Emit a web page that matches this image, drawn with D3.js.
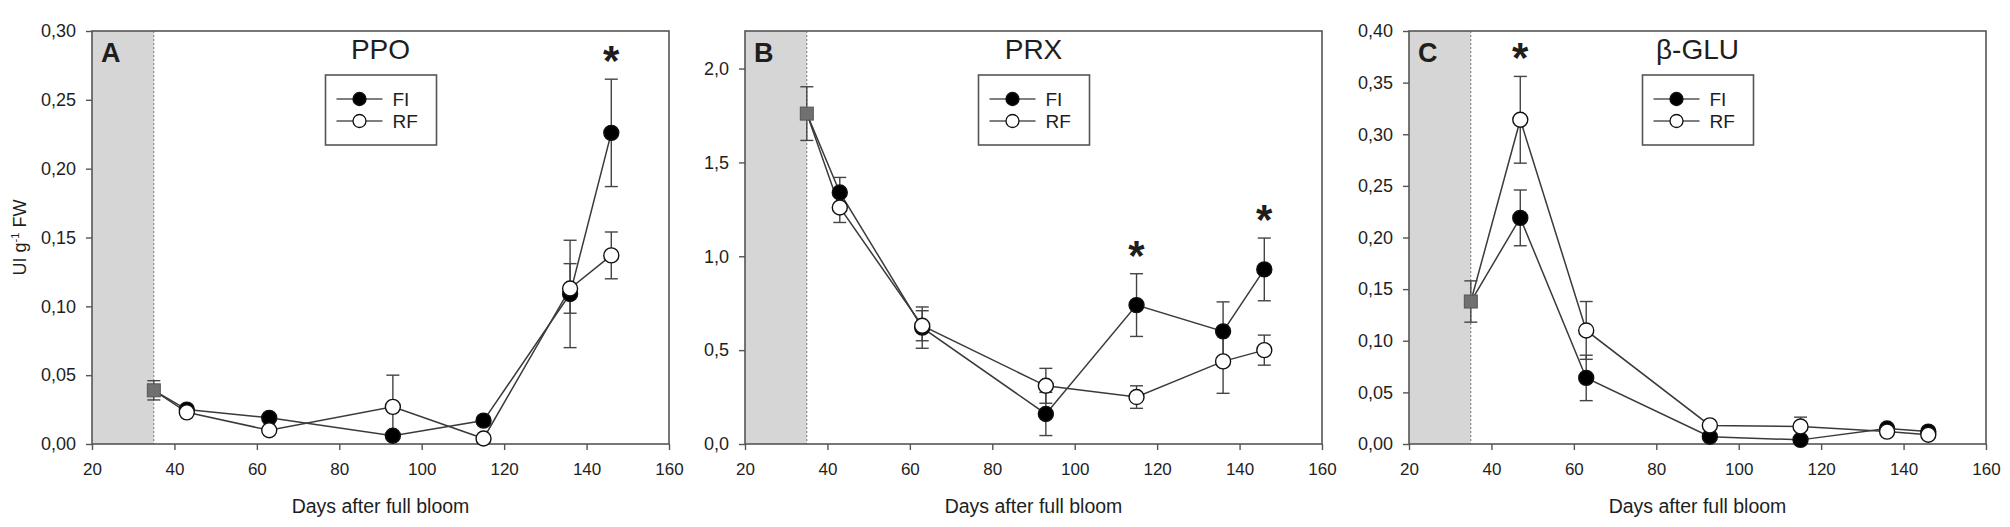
<!DOCTYPE html>
<html lang="en">
<head>
    <meta charset="UTF-8">
    <title>PPO, PRX, β-GLU activity</title>
    <script src="https://d3js.org/d3.v7.min.js"></script>
    <style>
        body { margin: 0; background: #fff; font-family: Arial, "Liberation Sans", sans-serif; }
        svg text { fill: #1e1e1e; }
        .tick line { stroke: #555; stroke-width: 1.4; }
        .tick text { font-size: 18px; }
        .xaxis .tick text { font-size: 17px; }
    </style>
</head>
<body>
<svg width="2010" height="527"></svg>
<script>
    // sampling days (days after full bloom)
    const daysAB = [43, 63, 93, 115, 136, 146];
    const daysC = [47, 63, 93, 115, 136, 146];
    const startDay = 35;

    // PPO
    const ppoStart = [0.039, 0.007];
    const ppoFI = [0.025, 0.019, 0.006, 0.017, 0.109, 0.226];
    const ppoFIerr = [0.002, 0.002, 0.002, 0.003, 0.039, 0.039];
    const ppoRF = [0.023, 0.010, 0.027, 0.004, 0.113, 0.137];
    const ppoRFerr = [0.002, 0.002, 0.023, 0.002, 0.018, 0.017];
    const ppoStars = [146];
    const ppoTicks = [0, 0.05, 0.10, 0.15, 0.20, 0.25, 0.30];

    // PRX
    const prxStart = [1.76, 0.143];
    const prxFI = [1.34, 0.62, 0.16, 0.74, 0.60, 0.93];
    const prxFIerr = [0.08, 0.11, 0.115, 0.167, 0.157, 0.167];
    const prxRF = [1.26, 0.63, 0.31, 0.25, 0.44, 0.50];
    const prxRFerr = [0.08, 0.08, 0.093, 0.06, 0.17, 0.08];
    const prxStars = [115, 146];
    const prxTicks = [0, 0.5, 1.0, 1.5, 2.0];

    // beta-GLU
    const gluStart = [0.138, 0.02];
    const gluFI = [0.219, 0.064, 0.007, 0.004, 0.015, 0.012];
    const gluFIerr = [0.027, 0.022, 0.002, 0.002, 0.002, 0.002];
    const gluRF = [0.314, 0.110, 0.018, 0.017, 0.012, 0.009];
    const gluRFerr = [0.042, 0.028, 0.003, 0.009, 0.003, 0.002];
    const gluStars = [47];
    const gluTicks = [0, 0.05, 0.10, 0.15, 0.20, 0.25, 0.30, 0.35, 0.40];

    const xTicks = [20, 40, 60, 80, 100, 120, 140, 160];

    const panels = [
        {letter: "A", title: "PPO", left: 92, days: daysAB, start: ppoStart, fi: ppoFI, fiErr: ppoFIerr, rf: ppoRF, rfErr: ppoRFerr, stars: ppoStars, ticks: ppoTicks, max: 0.30, dec: 2, ylabel: true},
        {letter: "B", title: "PRX", left: 745, days: daysAB, start: prxStart, fi: prxFI, fiErr: prxFIerr, rf: prxRF, rfErr: prxRFerr, stars: prxStars, ticks: prxTicks, max: 2.2, dec: 1},
        {letter: "C", title: "β-GLU", left: 1409, days: daysC, start: gluStart, fi: gluFI, fiErr: gluFIerr, rf: gluRF, rfErr: gluRFerr, stars: gluStars, ticks: gluTicks, max: 0.40, dec: 2}
    ];

    const svg = d3.select("svg");
    const plotTop = 31, plotBottom = 444, pw = 577;
    const comma = (v, dec) => v.toFixed(dec).replace(".", ",");

    panels.forEach(p => {
        const x = d3.scaleLinear().domain([20, 160]).range([p.left, p.left + pw]);
        const y = d3.scaleLinear().domain([0, p.max]).range([plotBottom, plotTop]);
        const g = svg.append("g");

        // pre-treatment shaded zone
        g.append("rect")
            .attr("x", x(20)).attr("y", plotTop)
            .attr("width", x(startDay) - x(20)).attr("height", plotBottom - plotTop)
            .attr("fill", "#d6d6d6");
        g.append("line")
            .attr("x1", x(startDay)).attr("x2", x(startDay))
            .attr("y1", plotTop).attr("y2", plotBottom)
            .attr("stroke", "#777").attr("stroke-width", 1).attr("stroke-dasharray", "2,2");

        // axes (ticks only, frame drawn separately)
        const ax = g.append("g")
            .attr("class", "xaxis")
            .attr("transform", `translate(0,${plotBottom})`)
            .call(d3.axisBottom(x).tickValues(xTicks).tickSize(6).tickSizeOuter(0).tickPadding(13).tickFormat(d3.format("d")));
        ax.select(".domain").remove();
        const ay = g.append("g")
            .attr("transform", `translate(${p.left},0)`)
            .call(d3.axisLeft(y).tickValues(p.ticks).tickSize(6).tickSizeOuter(0).tickPadding(10).tickFormat(d => comma(d, p.dec)));
        ay.select(".domain").remove();

        g.append("rect")
            .attr("x", p.left).attr("y", plotTop)
            .attr("width", pw).attr("height", plotBottom - plotTop)
            .attr("fill", "none").attr("stroke", "#555").attr("stroke-width", 1.6);

        // series built from the arrays
        const series = [
            {name: "FI", vals: p.fi, errs: p.fiErr, fill: "#000"},
            {name: "RF", vals: p.rf, errs: p.rfErr, fill: "#fff"}
        ].map(s => ({...s, pts: p.days.map((d, i) => ({day: d, v: s.vals[i], e: s.errs[i]}))}));

        const line = d3.line().x(d => x(d.day)).y(d => y(d.v));
        series.forEach(s => {
            g.append("path")
                .datum([{day: startDay, v: p.start[0]}, ...s.pts])
                .attr("d", line)
                .attr("fill", "none").attr("stroke", "#3a3a3a").attr("stroke-width", 1.5);
        });

        // error bars
        const allErr = [{day: startDay, v: p.start[0], e: p.start[1]}, ...series[0].pts, ...series[1].pts];
        const eb = g.append("g").attr("stroke", "#444").attr("stroke-width", 1.4);
        allErr.forEach(d => {
            const cx = x(d.day), y1 = y(d.v + d.e), y2 = y(d.v - d.e);
            eb.append("line").attr("x1", cx).attr("x2", cx).attr("y1", y1).attr("y2", y2);
            eb.append("line").attr("x1", cx - 6.5).attr("x2", cx + 6.5).attr("y1", y1).attr("y2", y1);
            eb.append("line").attr("x1", cx - 6.5).attr("x2", cx + 6.5).attr("y1", y2).attr("y2", y2);
        });

        // markers
        series.forEach(s => {
            g.selectAll(null).data(s.pts).enter().append("circle")
                .attr("cx", d => x(d.day)).attr("cy", d => y(d.v)).attr("r", 7.5)
                .attr("fill", s.fill).attr("stroke", "#111").attr("stroke-width", 1.4);
        });
        g.append("rect")
            .attr("x", x(startDay) - 6.5).attr("y", y(p.start[0]) - 6.5)
            .attr("width", 13).attr("height", 13)
            .attr("fill", "#707070").attr("stroke", "#555").attr("stroke-width", 1);

        // significance asterisks above the upper error bar
        p.stars.forEach(day => {
            const i = p.days.indexOf(day);
            const topV = Math.max(p.fi[i] + p.fiErr[i], p.rf[i] + p.rfErr[i]);
            g.append("text")
                .attr("x", x(day)).attr("y", y(topV) - 28 + 24)
                .attr("text-anchor", "middle")
                .attr("font-size", "42px").attr("font-weight", "bold")
                .text("*");
        });

        // panel letter and title
        g.append("text")
            .attr("x", p.left + 9).attr("y", 62)
            .attr("font-size", "27px").attr("font-weight", "bold")
            .text(p.letter);
        g.append("text")
            .attr("x", p.left + pw / 2).attr("y", 59)
            .attr("text-anchor", "middle").attr("font-size", "28px")
            .text(p.title);

        // legend
        const lx = p.left + pw / 2 - 55;
        const lg = g.append("g").attr("transform", `translate(${lx},75)`);
        lg.append("rect").attr("width", 111).attr("height", 70)
            .attr("fill", "#fff").attr("stroke", "#555").attr("stroke-width", 1.6);
        series.forEach((s, i) => {
            const ly = 24 + i * 22;
            lg.append("line").attr("x1", 11).attr("x2", 57).attr("y1", ly).attr("y2", ly)
                .attr("stroke", "#555").attr("stroke-width", 1.4);
            lg.append("circle").attr("cx", 34).attr("cy", ly).attr("r", 6.5)
                .attr("fill", s.fill).attr("stroke", "#111").attr("stroke-width", 1.3);
            lg.append("text").attr("x", 67).attr("y", ly + 7)
                .attr("font-size", "19px").text(s.name);
        });

        // x label
        g.append("text")
            .attr("x", p.left + pw / 2).attr("y", 513)
            .attr("text-anchor", "middle").attr("font-size", "19.5px")
            .text("Days after full bloom");

        if (p.ylabel) {
            const t = g.append("text")
                .attr("transform", `translate(26,${(plotTop + plotBottom) / 2}) rotate(-90)`)
                .attr("text-anchor", "middle").attr("font-size", "18px");
            t.append("tspan").text("UI g");
            t.append("tspan").attr("font-size", "11px").attr("dy", -7).text("-1");
            t.append("tspan").attr("dy", 7).text(" FW");
        }
    });
</script>
</body>
</html>
